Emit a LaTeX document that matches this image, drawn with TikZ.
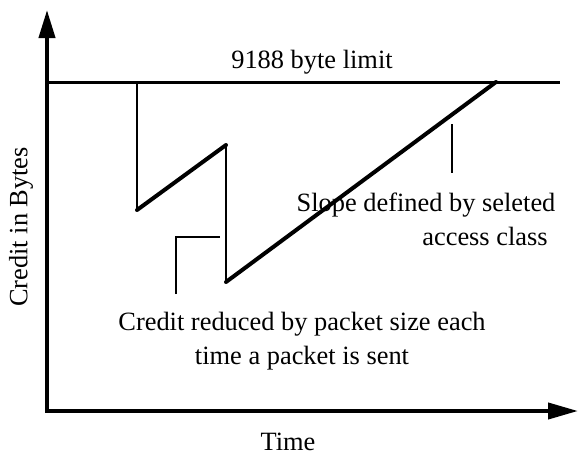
\documentclass[tikz,border=0pt]{standalone}
\usepackage{fontspec}
\setmainfont{Liberation Serif}
\usetikzlibrary{arrows.meta}

\tikzset{
  axis/.style={line width=2pt,line join=miter,
    {Triangle[length=14pt,width=8pt]}-{Triangle[length=15pt,width=8pt]}},
  limitline/.style={line width=1.5pt},
  drop/.style={line width=1pt},
  refill/.style={line width=2pt,line cap=round},
  leader/.style={line width=0.8pt},
  label/.style={inner sep=0pt,align=center}
}

\begin{document}
\begin{tikzpicture}[x=0.5pt,y=-0.5pt,font=\fontsize{13.2}{17}\selectfont]
  \useasboundingbox (0,0) rectangle (578,455);

  % axes
  \coordinate (ytop) at (47,10);
  \coordinate (O) at (47,411);
  \coordinate (xend) at (578,411);
  \draw[axis] (ytop) -- (O) -- (xend);

  % byte limit
  \coordinate (lim0) at (49,82);
  \coordinate (lim1) at (560,82);
  \draw[limitline] (lim0) -- (lim1);

  % credit curve
  \coordinate (p0) at (137,82);
  \coordinate (p1) at (137,210);
  \coordinate (p2) at (226,145);
  \coordinate (p3) at (226,282);
  \coordinate (p4) at (496,82);
  \draw[drop] (p0) -- (p1);
  \draw[refill] (p1) -- (p2);
  \draw[drop] (p2) -- (p3);
  \draw[refill] (p3) -- (p4);

  % labels
  \node[label] (limit) at (312,62) {9188 byte limit};
  \node[label] (slopeA) at (426,205) {Slope defined by seleted};
  \node[label] (slopeB) at (485,236) {access class};
  \node[label] (reduced) at (302,341) {Credit reduced by packet size each\\time a packet is sent};
  \node[label] (time) at (288,442) {Time};
  \node[label,rotate=90] (credit) at (21,227) {Credit in Bytes};

  % leaders
  \coordinate (s0) at (452,124);
  \coordinate (s1) at (452,173);
  \draw[leader] (s0) -- (s1);
  \coordinate (r0) at (176,294);
  \coordinate (r1) at (176,237);
  \coordinate (r2) at (220,237);
  \draw[leader] (r0) -- (r1) -- (r2);
\end{tikzpicture}
\end{document}
